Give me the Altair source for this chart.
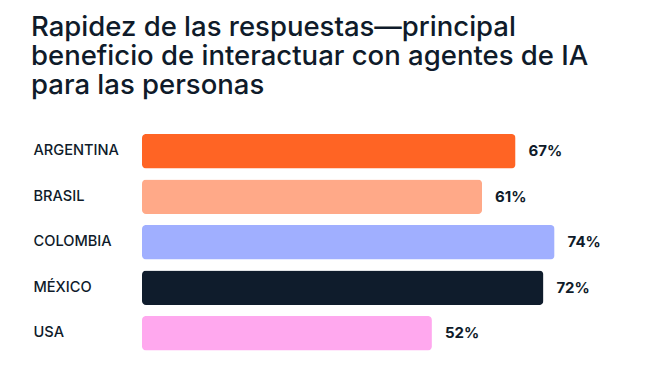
import altair as alt
import pandas as pd

paises = ["ARGENTINA", "BRASIL", "COLOMBIA", "MÉXICO", "USA"]
valores = [67, 61, 74, 72, 52]
colores = ["#FF6424", "#FFA988", "#A0AFFF", "#0F1C2C", "#FFA8EE"]
titulo = [
    "Rapidez de las respuestas\u2014principal",
    "beneficio de interactuar con agentes de IA",
    "para las personas",
]

df = pd.DataFrame({"pais": paises, "valor": valores})
df["etiqueta"] = df["valor"].astype(str) + "%"

FONT = "Inter"
INK = "#0F1B2A"

y_enc = alt.Y(
    "pais:N",
    sort=paises,
    title=None,
    scale=alt.Scale(paddingInner=0.24, paddingOuter=0.12),
    axis=alt.Axis(
        domain=False, ticks=False, tickSize=0, labelAlign="left",
        labelPadding=109, labelFont=FONT, labelFontSize=14.6,
        labelFontWeight=500, labelColor=INK,
    ),
)
x_enc = alt.X("valor:Q", scale=alt.Scale(domain=[0, 80]), axis=None)

bars = alt.Chart(df).mark_bar(cornerRadius=4).encode(
    x=x_enc,
    y=y_enc,
    color=alt.Color("pais:N", scale=alt.Scale(domain=paises, range=colores), legend=None),
)

text = alt.Chart(df).mark_text(
    align="left", dx=13, font=FONT, fontSize=15, fontWeight="bold", color=INK
).encode(x=x_enc, y=alt.Y("pais:N", sort=paises), text="etiqueta:N")

chart = (bars + text).properties(
    width=446,
    height=227.5,
    autosize=alt.AutoSizeParams(type="none"),
    padding={"left": 134, "top": 120.5, "right": 70, "bottom": 5},
    title=alt.Title(
        text=titulo, anchor="start", frame="group", font=FONT, fontSize=27.5,
        fontWeight=500, color=INK, lineHeight=29, dx=-111, offset=29,
    ),
).configure(background="white", view=alt.ViewConfig(stroke=None))

chart.save("out.html", embed_options={"renderer": "svg", "actions": False})
